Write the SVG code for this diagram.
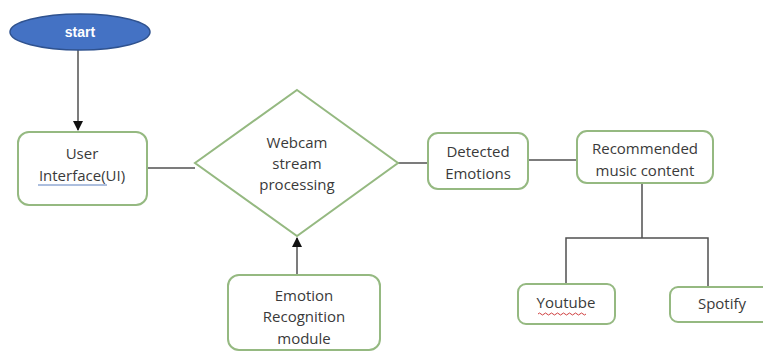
<svg xmlns="http://www.w3.org/2000/svg" width="763" height="352" viewBox="0 0 763 352">
<style>
.box{fill:#fff;stroke:#95b981;stroke-width:2}
.t{font-family:"Open Sans","Liberation Sans",sans-serif;font-size:15px;fill:#3a3a3a;text-anchor:middle}
.ln{stroke:#505050;stroke-width:1.5;fill:none}
</style>
<defs>
<marker id="ah" markerWidth="10" markerHeight="10" refX="9" refY="5" orient="auto" markerUnits="userSpaceOnUse">
<path d="M0,0 L10,5 L0,10 Z" fill="#111"/>
</marker>
</defs>
<rect width="763" height="352" fill="#fff"/>
<g id="connectors">
<line class="ln" x1="78" y1="50" x2="78" y2="130" marker-end="url(#ah)"/>
<line class="ln" x1="147" y1="168" x2="195" y2="168"/>
<line class="ln" x1="398" y1="163" x2="428" y2="163"/>
<line class="ln" x1="528" y1="160" x2="577" y2="160"/>
<line class="ln" x1="297" y1="275" x2="297" y2="238" marker-end="url(#ah)"/>
<path class="ln" d="M642,183 V238 M566,284 V238 H708 V286"/>
</g>
<g id="start">
<ellipse cx="80" cy="32" rx="70" ry="18" fill="#4472c4" stroke="#2f528f" stroke-width="1.5"/>
<text x="80" y="37" font-family="Liberation Sans,sans-serif" font-size="14" font-weight="bold" fill="#fff" text-anchor="middle">start</text>
</g>
<g id="ui">
<rect class="box" x="18" y="132" width="129" height="73" rx="11"/>
<text class="t" x="82" y="159">User</text>
<text class="t" x="82" y="181">Interface(UI)</text>
<line x1="38" y1="185" x2="107" y2="185" stroke="#5b7fbd" stroke-width="1"/>
</g>
<g id="webcam">
<polygon class="box" points="297,90 398,163 297,236 195,163"/>
<text class="t" x="297" y="148">Webcam</text>
<text class="t" x="297" y="169">stream</text>
<text class="t" x="297" y="190">processing</text>
</g>
<g id="module">
<rect class="box" x="228" y="275" width="152" height="75" rx="11"/>
<text class="t" x="304" y="301">Emotion</text>
<text class="t" x="304" y="322">Recognition</text>
<text class="t" x="304" y="344">module</text>
</g>
<g id="detected">
<rect class="box" x="428" y="133" width="100" height="56" rx="10"/>
<text class="t" x="478" y="157">Detected</text>
<text class="t" x="478" y="179">Emotions</text>
</g>
<g id="recommended">
<rect class="box" x="577" y="131" width="136" height="52" rx="10"/>
<text class="t" x="645" y="154">Recommended</text>
<text class="t" x="645" y="176">music content</text>
</g>
<g id="youtube">
<rect class="box" x="518" y="284" width="97" height="40" rx="8"/>
<text class="t" x="566" y="308">Youtube</text>
<path d="M538,314 q1.5,-2 3,0 t3,0 t3,0 t3,0 t3,0 t3,0 t3,0 t3,0 t3,0 t3,0 t3,0 t3,0 t3,0 t3,0 t3,0 t3,0" fill="none" stroke="#d04040" stroke-width="1"/>
</g>
<g id="spotify">
<rect class="box" x="670" y="287" width="100" height="35" rx="8"/>
<text class="t" x="722" y="309">Spotify</text>
</g>
</svg>
